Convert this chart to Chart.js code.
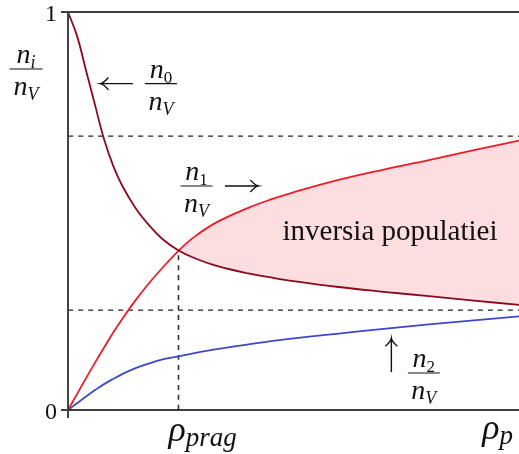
<!DOCTYPE html>
<html>
<head>
<meta charset="utf-8">
<script src="https://cdn.jsdelivr.net/npm/chart.js@4.4.0/dist/chart.umd.min.js"></script>
<style>
  body { margin: 0; background: #fff; }
  #wrap { width: 519px; height: 454px; }
</style>
</head>
<body>
<div id="wrap"><canvas id="chart" width="519" height="454"></canvas></div>
<script>
// pump rate (fraction of rho_p) and level populations
var rho = [0, 0.02, 0.04, 0.06, 0.08, 0.1, 0.12, 0.15, 0.18, 0.21, 0.245, 0.28, 0.33, 0.4, 0.45, 0.5, 0.6, 0.7, 0.8, 0.9, 1.0];
var n0 = [1.0, 0.94, 0.853, 0.766, 0.68, 0.614, 0.564, 0.507, 0.464, 0.429, 0.401, 0.382, 0.362, 0.343, 0.333, 0.324, 0.309, 0.297, 0.286, 0.275, 0.264];
var n1 = [0, 0.04, 0.08, 0.119, 0.157, 0.194, 0.228, 0.276, 0.319, 0.358, 0.40, 0.435, 0.472, 0.508, 0.529, 0.547, 0.578, 0.604, 0.628, 0.653, 0.677];
var n2 = [0, 0.017, 0.034, 0.05, 0.065, 0.078, 0.09, 0.105, 0.117, 0.127, 0.135, 0.143, 0.153, 0.165, 0.173, 0.18, 0.192, 0.204, 0.215, 0.225, 0.235];

var yTicks = [0, 1];
var rhoPrag = 0.245;      // threshold, where n1 crosses n0
var crossValue = 0.40;
var upperLevel = 0.688;   // dashed guide lines
var lowerLevel = 0.251;

function pts(ys) {
    return rho.map(function (x, i) { return { x: x, y: ys[i] }; });
}

var SERIF = '"Liberation Serif", "DejaVu Serif", serif';

// draw a run of math pieces: [text, size, italic, dy]
function drawRun(ctx, x, y, parts, align) {
    var w = 0;
    parts.forEach(function (p) {
        ctx.font = (p[2] ? 'italic ' : '') + p[1] + 'px ' + SERIF;
        p.w = ctx.measureText(p[0]).width;
        w += p.w;
    });
    var cx = align === 'center' ? x - w / 2 : (align === 'right' ? x - w : x);
    ctx.textAlign = 'left';
    ctx.textBaseline = 'alphabetic';
    parts.forEach(function (p) {
        ctx.font = (p[2] ? 'italic ' : '') + p[1] + 'px ' + SERIF;
        ctx.fillText(p[0], cx, y + (p[3] || 0));
        cx += p.w;
    });
}

function drawFrac(ctx, cx, barY, num, den, barW) {
    ctx.strokeStyle = '#111';
    ctx.lineWidth = 1.1;
    ctx.beginPath();
    ctx.moveTo(cx - barW / 2, barY);
    ctx.lineTo(cx + barW / 2, barY);
    ctx.stroke();
    drawRun(ctx, cx, barY - 6, num, 'center');
    drawRun(ctx, cx, barY + 26, den, 'center');
}

function arrow(ctx, x1, y1, x2, y2) {
    var a = Math.atan2(y2 - y1, x2 - x1);
    ctx.strokeStyle = '#111';
    ctx.lineWidth = 1.4;
    ctx.beginPath();
    ctx.moveTo(x1, y1);
    ctx.lineTo(x2, y2);
    ctx.stroke();
    ctx.beginPath();
    ctx.moveTo(x2 - 10 * Math.cos(a - 0.65), y2 - 10 * Math.sin(a - 0.65));
    ctx.quadraticCurveTo(x2 - 3 * Math.cos(a - 0.15), y2 - 3 * Math.sin(a - 0.15), x2, y2);
    ctx.quadraticCurveTo(x2 - 3 * Math.cos(a + 0.15), y2 - 3 * Math.sin(a + 0.15), x2 - 10 * Math.cos(a + 0.65), y2 - 10 * Math.sin(a + 0.65));
    ctx.stroke();
}

var nV = [['n', 28, true], ['V', 18, true, 5]];

var decorPlugin = {
    id: 'decor',
    afterDatasetsDraw: function (chart) {
        var ctx = chart.ctx;
        var xs = chart.scales.x, ys = chart.scales.y;
        var a = chart.chartArea;
        ctx.save();

        // axes
        ctx.strokeStyle = '#000';
        ctx.lineWidth = 1.4;
        ctx.beginPath();
        ctx.moveTo(a.left - 7, a.top); ctx.lineTo(a.right, a.top);
        ctx.moveTo(a.left - 7, a.bottom); ctx.lineTo(a.right, a.bottom);
        ctx.stroke();
        ctx.strokeStyle = '#444';
        ctx.lineWidth = 2;
        ctx.beginPath();
        ctx.moveTo(a.left, a.top); ctx.lineTo(a.left, a.bottom + 8);
        ctx.stroke();

        ctx.fillStyle = '#111';
        // y ticks
        yTicks.forEach(function (v) {
            ctx.font = '24px ' + SERIF;
            ctx.textAlign = 'right';
            ctx.textBaseline = 'middle';
            ctx.fillText(String(v), a.left - 11, ys.getPixelForValue(v) + 3);
        });

        // y title n_i / n_V
        drawFrac(ctx, 26, 69, [['n', 28, true], ['i', 18, true, 5]], nV, 33);

        // x labels
        drawRun(ctx, xs.getPixelForValue(rhoPrag) - 10, 441,
            [['ρ', 36, true], ['prag', 27, true, 5]], 'left');
        drawRun(ctx, a.right - 6, 439, [['ρ', 36, true], ['p', 27, true, 5]], 'right');

        // curve labels
        var px = function (v) { return xs.getPixelForValue(v); };
        var py = function (v) { return ys.getPixelForValue(v); };

        arrow(ctx, px(0.144), py(0.82), px(0.072), py(0.82));
        drawFrac(ctx, px(0.206), py(0.82), [['n', 28, true], ['0', 17, false, 5]], nV, 32);

        drawFrac(ctx, px(0.285), py(0.563), [['n', 28, true], ['1', 17, false, 5]], nV, 32);
        arrow(ctx, px(0.348), py(0.563), px(0.422), py(0.563));

        ctx.fillStyle = '#111';
        ctx.font = '29px ' + SERIF;
        ctx.textAlign = 'center';
        ctx.textBaseline = 'alphabetic';
        ctx.fillText('inversia populatiei', px(0.714), py(0.427));

        arrow(ctx, px(0.717), py(0.095), px(0.717), py(0.18));
        drawFrac(ctx, px(0.789), py(0.093), [['n', 28, true], ['2', 17, false, 5]], nV, 32);

        ctx.restore();
    }
};

var ctx = document.getElementById('chart').getContext('2d');
new Chart(ctx, {
    type: 'line',
    data: {
        datasets: [
            {
                label: 'n0/nV',
                data: pts(n0),
                borderColor: '#8c0a1e',
                borderWidth: 1.8,
                fill: false
            },
            {
                label: 'n1/nV',
                data: pts(n1),
                borderColor: '#ee1c25',
                borderWidth: 1.8,
                fill: { target: 0, above: 'rgb(252,222,224)', below: 'rgba(0,0,0,0)' }
            },
            {
                label: 'n2/nV',
                data: pts(n2),
                borderColor: '#3f47cc',
                borderWidth: 1.8,
                fill: false
            },
            {
                label: 'upper',
                data: [{ x: 0, y: upperLevel }, { x: 1, y: upperLevel }],
                borderColor: '#222',
                borderWidth: 1.2,
                borderDash: [5, 5],
                fill: false
            },
            {
                label: 'lower',
                data: [{ x: 0, y: lowerLevel }, { x: 1, y: lowerLevel }],
                borderColor: '#222',
                borderWidth: 1.2,
                borderDash: [5, 5],
                fill: false
            },
            {
                label: 'threshold',
                data: [{ x: rhoPrag, y: 0 }, { x: rhoPrag, y: crossValue }],
                borderColor: '#333',
                borderWidth: 1.6,
                borderDash: [5, 5],
                fill: false
            }
        ]
    },
    options: {
        responsive: false,
        animation: false,
        layout: { padding: { left: 68, right: 0, top: 12, bottom: 44 } },
        elements: {
            point: { radius: 0 },
            line: { tension: 0.4 }
        },
        plugins: {
            legend: { display: false },
            tooltip: { enabled: false },
            filler: { drawTime: 'beforeDatasetsDraw' }
        },
        scales: {
            x: { type: 'linear', min: 0, max: 1, display: false },
            y: { min: 0, max: 1, display: false }
        }
    },
    plugins: [decorPlugin]
});
</script>
</body>
</html>
